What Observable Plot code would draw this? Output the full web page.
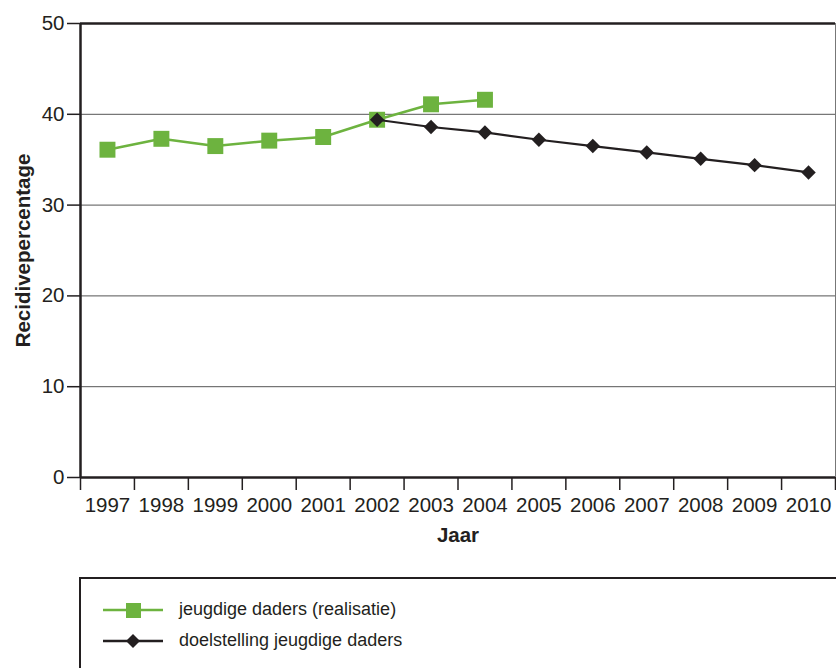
<!DOCTYPE html>
<html><head><meta charset="utf-8">
<script src="https://cdn.jsdelivr.net/npm/d3@7"></script>
<script src="https://cdn.jsdelivr.net/npm/@observablehq/plot@0.6"></script>
<style>
body{margin:0;background:#fff;overflow:hidden;width:836px;height:668px;font-family:"Liberation Sans",Arial,sans-serif;color:#231f20}
#legend{position:absolute;left:79px;top:577px;width:800px;height:120px;border:2px solid #231f20;box-sizing:border-box}
.item{position:absolute;left:22px;display:flex;align-items:center;font-size:18px}
.item svg{margin-right:14px}
</style></head><body>
<div id="chart"></div>
<div id="legend">
 <div class="item" style="top:20px"><svg width="62" height="20"><line x1="0" y1="10" x2="60" y2="10" stroke="#6db33f" stroke-width="2.5"/><rect x="23" y="3" width="15" height="15" fill="#6db33f"/></svg>jeugdige daders (realisatie)</div>
 <div class="item" style="top:51px"><svg width="62" height="20"><line x1="0" y1="10" x2="60" y2="10" stroke="#231f20" stroke-width="2.5"/><path d="M30,3 L37,10 L30,17 L23,10Z" fill="#231f20"/></svg>doelstelling jeugdige daders</div>
</div>
<script>
const years = [1997,1998,1999,2000,2001,2002,2003,2004,2005,2006,2007,2008,2009,2010];
const realYears = [1997,1998,1999,2000,2001,2002,2003,2004];
const realValues = [36.1,37.3,36.5,37.1,37.5,39.4,41.1,41.6];
const goalYears = [2002,2003,2004,2005,2006,2007,2008,2009,2010];
const goalValues = [39.4,38.6,38.0,37.2,36.5,35.8,35.1,34.4,33.6];
const yTicks = [0,10,20,30,40,50];

const real = realYears.map((y,i)=>({year:y,value:realValues[i]}));
const goal = goalYears.map((y,i)=>({year:y,value:goalValues[i]}));
const edges = years.map(y=>y-0.5).concat([years[years.length-1]+0.5]);
const x0 = years[0]-0.5, x1 = years[years.length-1]+0.5;

const chart = Plot.plot({
  width: 836, height: 560,
  marginLeft: 80, marginRight: 1, marginTop: 23, marginBottom: 83,
  style: {fontFamily: '"Liberation Sans",Arial,sans-serif', fontSize: "20.5px", color: "#231f20", background: "#fff"},
  x: {type: "linear", domain: [x0, x1]},
  y: {domain: [0, 50]},
  marks: [
    Plot.ruleY(yTicks.filter(t=>t>0 && t<50), {stroke: "#555", strokeWidth: 1}),
    Plot.ruleY([50], {stroke: "#231f20", strokeWidth: 2.5}),
    Plot.ruleX([x1], {stroke: "#777", strokeWidth: 1}),
    Plot.axisY({ticks: yTicks, tickSize: 13, tickPadding: 3, tickFormat: d=>d, label: null, stroke: "#231f20", strokeWidth: 1.5}),
    Plot.axisX({ticks: edges, tickSize: 13, tickFormat: () => "", label: null, stroke: "#231f20", strokeWidth: 1.5}),
    Plot.axisX({ticks: years, tickSize: 0, tickPadding: 20, tickFormat: d=>String(d), label: null}),
    Plot.ruleX([x0], {stroke: "#231f20", strokeWidth: 2.5}),
    Plot.ruleY([0], {stroke: "#231f20", strokeWidth: 2.5}),
    Plot.line(real, {x: "year", y: "value", stroke: "#6db33f", strokeWidth: 2.5}),
    Plot.dot(real, {x: "year", y: "value", symbol: "square", r: 9, fill: "#6db33f", stroke: null}),
    Plot.line(goal, {x: "year", y: "value", stroke: "#231f20", strokeWidth: 2.2}),
    Plot.dot(goal, {x: "year", y: "value", symbol: "diamond2", r: 6.5, fill: "#231f20", stroke: null}),
    Plot.text(["Recidivepercentage"], {frameAnchor: "left", textAnchor: "middle", dx: -57, rotate: -90, fontWeight: "bold", fontSize: 20.5}),
    Plot.text(["Jaar"], {frameAnchor: "bottom", dy: 64, fontWeight: "bold", fontSize: 20.5})
  ]
});
document.getElementById("chart").appendChild(chart);
</script>
</body></html>
